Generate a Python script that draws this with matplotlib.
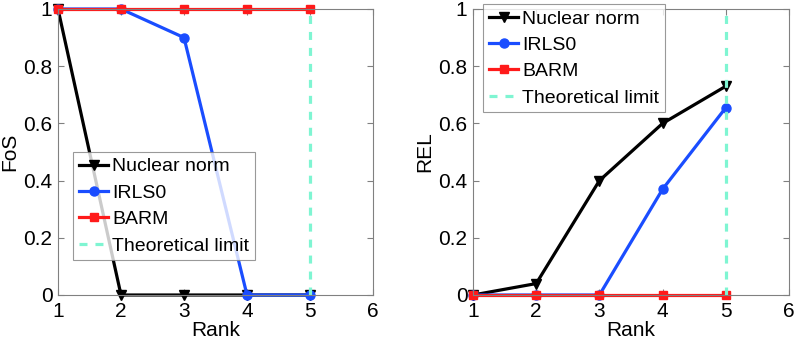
import matplotlib
matplotlib.use("Agg")
import matplotlib.pyplot as plt

plt.rcParams["font.family"] = ["Liberation Sans", "DejaVu Sans"]

rank = [1, 2, 3, 4, 5]
limit_rank = 5

fos_nuclear = [1, 0, 0, 0, 0]
fos_irls0 = [1, 1, 0.9, 0, 0]
fos_barm = [1, 1, 1, 1, 1]

rel_nuclear = [0, 0.04, 0.4, 0.6, 0.73]
rel_irls0 = [0, 0, 0, 0.37, 0.655]
rel_barm = [0, 0, 0, 0, 0]

labels = ["Nuclear norm", "IRLS0", "BARM", "Theoretical limit"]
grey = "#808080"

fig = plt.figure(figsize=(7.97, 3.40), dpi=100)
ax1 = fig.add_axes([58 / 797, 45 / 340, 315 / 797, 286 / 340])
ax2 = fig.add_axes([473 / 797, 45 / 340, 316 / 797, 286 / 340])


def draw(ax, nuc, irls, barm, ylabel, legend_xy):
    ax.plot(rank, nuc, color="black", lw=2.3, marker="v", ms=7, clip_on=False)
    ax.plot(rank, irls, color="#1a4dff", lw=2.3, marker="o", ms=6.5, clip_on=False)
    ax.plot(rank, barm, color="#ff1a1a", lw=2.3, marker="s", ms=6, clip_on=False)
    ax.axvline(limit_rank, color="#7ff5d2", lw=2.3, ls=(0, (2.5, 2.5)))
    ax.set_xlim(1, 6)
    ax.set_ylim(0, 1)
    ax.set_xticks([1, 2, 3, 4, 5, 6])
    ax.set_yticks([0, 0.2, 0.4, 0.6, 0.8, 1])
    ax.set_yticklabels(["0", "0.2", "0.4", "0.6", "0.8", "1"])
    ax.tick_params(direction="in", top=True, right=True, labelsize=15,
                   color=grey, length=4)
    ax.tick_params(axis="x", pad=5)
    ax.tick_params(axis="y", pad=4)
    for s in ax.spines.values():
        s.set_color(grey)
    ax.set_xlabel("Rank", fontsize=15, labelpad=0)
    ax.set_ylabel(ylabel, fontsize=15, labelpad=3)
    leg = ax.legend(labels, loc="upper left", bbox_to_anchor=legend_xy,
                    fontsize=14, frameon=True, fancybox=False,
                    borderpad=0.3, labelspacing=0.45, handlelength=1.5,
                    handletextpad=0.2, borderaxespad=0)
    leg.get_frame().set_edgecolor(grey)
    leg.get_frame().set_linewidth(0.8)


draw(ax1, fos_nuclear, fos_irls0, fos_barm, "FoS", (0.048, 0.5))
draw(ax2, rel_nuclear, rel_irls0, rel_barm, "REL", (0.032, 1.017))

fig.savefig("out.png", dpi=100)
